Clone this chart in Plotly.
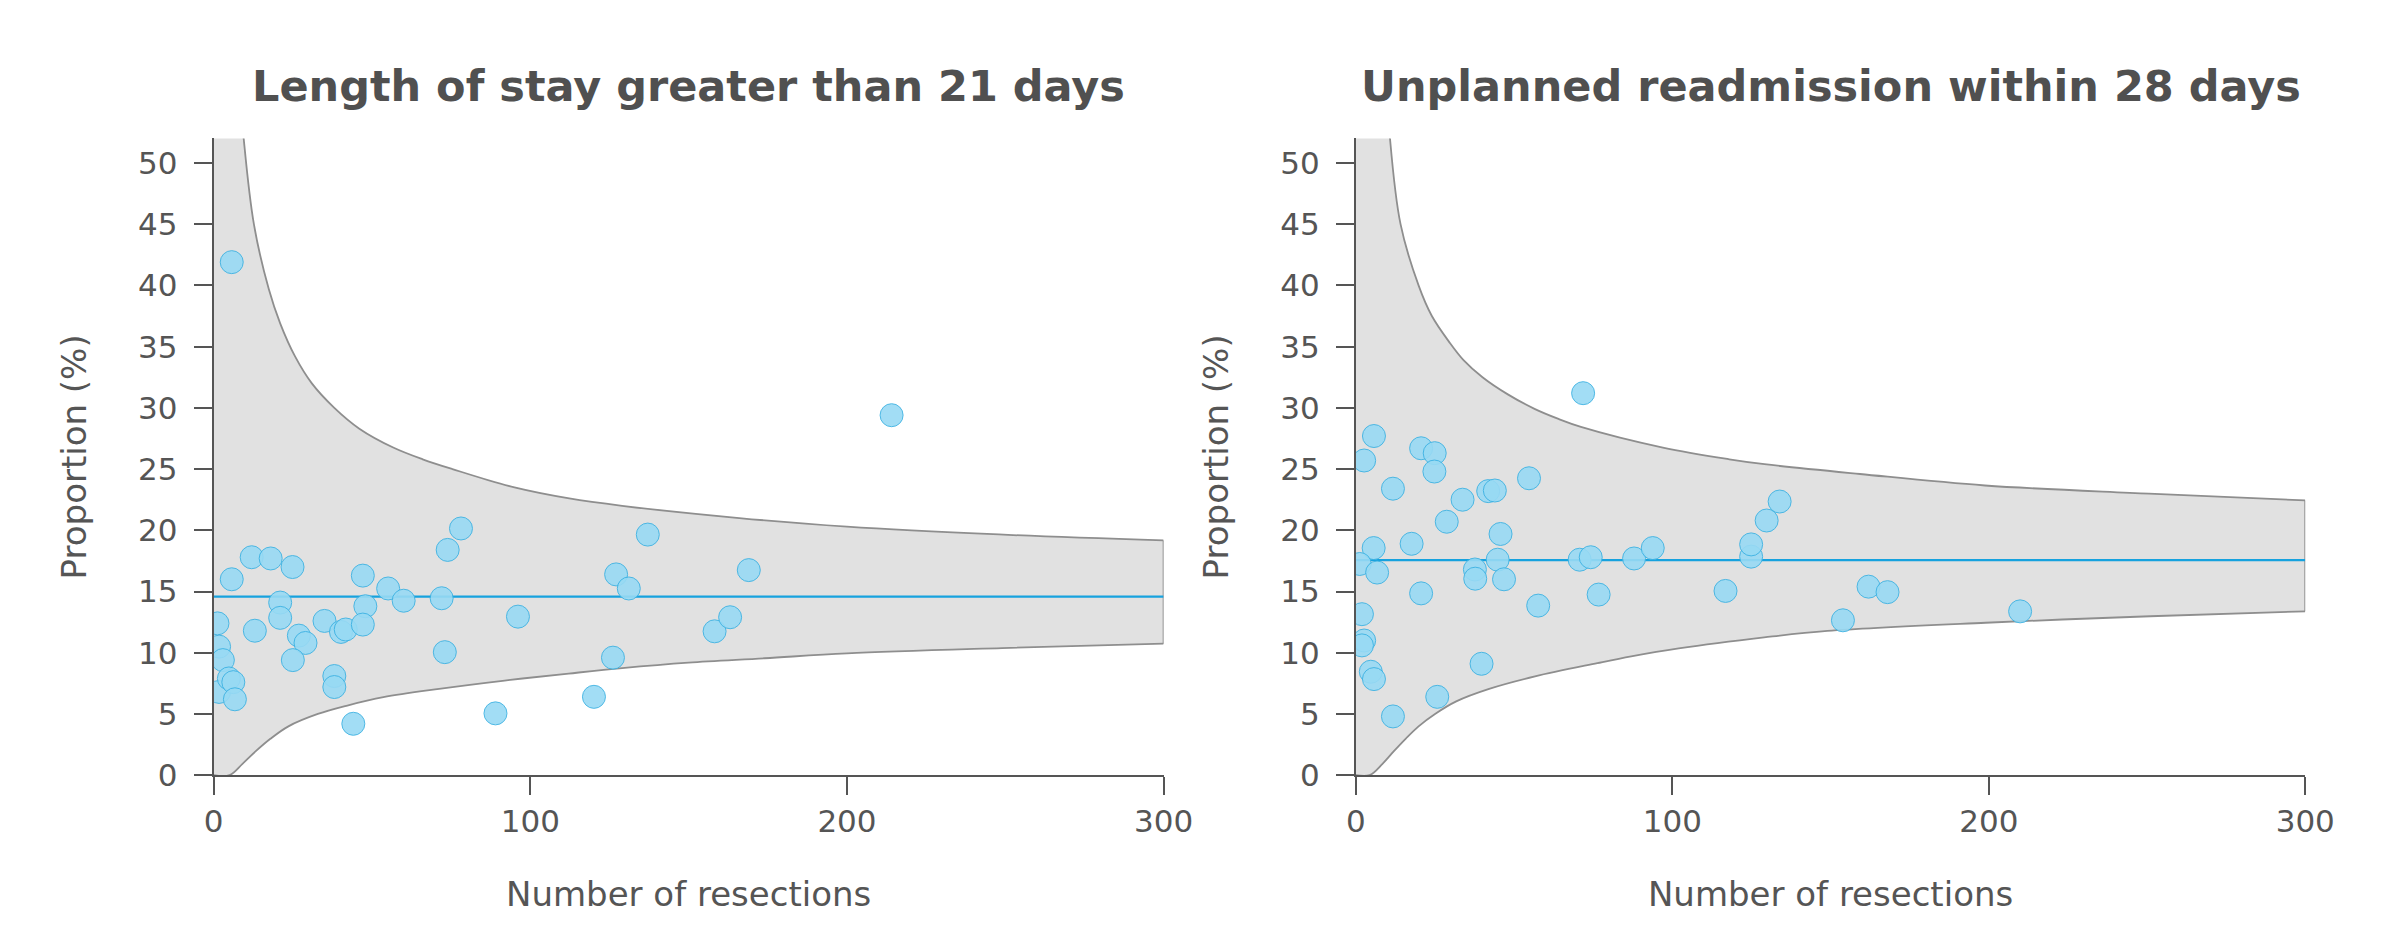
import plotly.graph_objects as go
from plotly.subplots import make_subplots

# length of stay > 21 days
stay_n = [1.2, 1.7, 2.9, 1.7, 4.8, 6.2, 6.7, 5.7, 5.7, 12.0, 18.0, 24.9, 13.0, 21.0, 21.0,
          26.9, 29.0, 25.0, 35.0, 40.2, 41.7, 38.1, 38.1, 44.1, 47.1, 47.9, 47.1, 55.1, 60.0,
          72.0, 73.9, 78.1, 73.0, 89.0, 96.1, 120.1, 126.1, 127.1, 131.1, 137.1, 158.2,
          163.1, 169.0, 214.1]
stay_pct = [12.4, 10.5, 9.4, 6.8, 7.9, 7.6, 6.2, 16.0, 41.9, 17.8, 17.7, 17.0, 11.8, 14.1, 12.85,
            11.4, 10.8, 9.4, 12.6, 11.7, 11.9, 8.1, 7.2, 4.2, 16.3, 13.8, 12.3, 15.25, 14.25,
            14.45, 18.4, 20.15, 10.05, 5.05, 12.95, 6.4, 9.6, 16.4, 15.25, 19.65, 11.75,
            12.9, 16.75, 29.4]
stay_mean = 14.58
stay_upper_n = [0, 7, 9.4, 12.7, 17.4, 21, 25.7, 31, 38.1, 46, 56.7, 66, 75.4, 95, 112.3, 129, 166, 200, 248, 300]
stay_upper = [60, 60, 52.2, 45, 39.7, 36.9, 34.2, 32.0, 30, 28.3, 26.76, 25.8, 25, 23.5, 22.6, 22.0, 21.0, 20.3, 19.66, 19.17]
stay_lower_n = [0, 5.0, 9.1, 13.3, 17.9, 23.6, 32.9, 42.2, 53.6, 71.2, 91.9, 112.1, 129, 150, 174, 200, 249, 300]
stay_lower = [0, 0, 0.93, 1.96, 2.97, 3.99, 5.0, 5.69, 6.37, 7.05, 7.73, 8.3, 8.75, 9.2, 9.55, 9.95, 10.38, 10.74]

# unplanned readmission within 28 days
readm_n = [71.8, 5.7, 2.6, 20.6, 24.9, 24.8, 11.7, 54.7, 33.7, 41.8, 43.9, 28.7, 45.7, 17.6, 5.6,
           1.2, 6.7, 44.8, 37.6, 37.7, 46.8, 20.6, 57.6, 70.7, 74.2, 76.7, 87.9, 93.8, 116.8,
           124.9, 124.9, 129.8, 133.9, 153.9, 162.0, 168.0, 209.9, 1.9, 2.6, 1.9, 4.7, 5.7,
           39.7, 25.7, 11.7]
readm_pct = [31.2, 27.7, 25.7, 26.7, 26.3, 24.8, 23.4, 24.25, 22.5, 23.2, 23.25, 20.7, 19.7, 18.9, 18.55,
             17.25, 16.55, 17.6, 16.8, 16.05, 16.0, 14.85, 13.85, 17.6, 17.8, 14.75, 17.7, 18.55, 15.05,
             17.85, 18.85, 20.8, 22.35, 12.65, 15.4, 14.95, 13.38, 13.15, 11.0, 10.6, 8.45, 7.85,
             9.1, 6.4, 4.8]
readm_mean = 17.57
readm_upper_n = [0, 9, 10.7, 14.1, 19.8, 24, 29.7, 34, 40.0, 48, 56.6, 64, 71.1, 97.0, 118, 129.1, 159.3, 198.8, 250.6, 300]
readm_upper = [60, 60, 52.2, 45, 40, 37.5, 35.3, 33.9, 32.5, 31.1, 29.9, 29.1, 28.45, 26.76, 25.8, 25.4, 24.6, 23.66, 23.0, 22.44]
readm_lower_n = [0, 4.3, 8.4, 12.0, 15.7, 19.8, 25.0, 31.7, 42.1, 56.6, 76.3, 87, 102, 129, 149, 199, 251, 300]
readm_lower = [0, 0, 0.93, 1.96, 2.97, 3.99, 5.0, 6.03, 7.05, 8.07, 9.15, 9.7, 10.35, 11.25, 11.78, 12.45, 12.98, 13.38]

titles = ["Length of stay greater than 21 days", "Unplanned readmission within 28 days"]

TEXT = "#555555"
BAND_LINE = "#8e8e8e"
BAND_FILL = "#e1e1e1"
MEAN_COL = "#16a2de"

panels = [
    (stay_n, stay_pct, stay_mean, stay_upper_n, stay_upper, stay_lower_n, stay_lower),
    (readm_n, readm_pct, readm_mean, readm_upper_n, readm_upper, readm_lower_n, readm_lower),
]

fig = make_subplots(rows=1, cols=2)

for i, (n, pct, mean, up_n, up, lo_n, lo) in enumerate(panels):
    col = i + 1
    fig.add_trace(go.Scatter(x=lo_n, y=lo, mode="lines",
                             line=dict(color=BAND_LINE, width=1.8, shape="spline"),
                             hoverinfo="skip"), row=1, col=col)
    fig.add_trace(go.Scatter(x=up_n, y=up, mode="lines", fill="tonexty", fillcolor=BAND_FILL,
                             line=dict(color=BAND_LINE, width=1.8, shape="spline"),
                             hoverinfo="skip"), row=1, col=col)
    # closing edge of the funnel at the right end
    fig.add_trace(go.Scatter(x=[up_n[-1], lo_n[-1]], y=[up[-1], lo[-1]], mode="lines",
                             line=dict(color=BAND_LINE, width=1.8), hoverinfo="skip"),
                  row=1, col=col)
    fig.add_trace(go.Scatter(x=[0, up_n[-1]], y=[mean, mean], mode="lines",
                             line=dict(color=MEAN_COL, width=2.2)), row=1, col=col)
    fig.add_trace(go.Scatter(x=n, y=pct, mode="markers",
                             marker=dict(size=23, color="#98daf4", opacity=0.9,
                                         line=dict(color="#3cb2e3", width=1))),
                  row=1, col=col)

axis_common = dict(showline=True, linewidth=2, linecolor=TEXT, ticks="outside", ticklen=18,
                   tickwidth=2, tickcolor=TEXT, showgrid=False, zeroline=False,
                   tickfont=dict(family="DejaVu Sans", size=31, color=TEXT))

fig.update_xaxes(range=[0, 300], tickvals=[0, 100, 200, 300], ticklabelstandoff=0,
                 title=dict(text="Number of resections", standoff=44,
                            font=dict(family="DejaVu Sans", size=34, color=TEXT)),
                 **axis_common)
fig.update_yaxes(range=[0, 52], tickvals=list(range(0, 51, 5)), ticklabelstandoff=10,
                 title=dict(text="Proportion (%)", standoff=41,
                            font=dict(family="DejaVu Sans", size=34, color=TEXT)),
                 **axis_common)

fig.update_layout(
    width=2400, height=951,
    margin=dict(l=0, r=0, t=0, b=0),
    plot_bgcolor="white", paper_bgcolor="white",
    showlegend=False,
    xaxis=dict(domain=[199 / 2400, 1165 / 2400]),
    xaxis2=dict(domain=[1360.6 / 2400, 2326 / 2400]),
    yaxis=dict(domain=[169 / 951, 818 / 951]),
    yaxis2=dict(domain=[169 / 951, 818 / 951]),
)

for i, t in enumerate(titles):
    fig.add_annotation(text="<b>" + t + "</b>", xref="x%s domain" % ("" if i == 0 else "2"),
                       yref="paper", x=0.5, y=1 - 80 / 951, xanchor="center", yanchor="middle",
                       showarrow=False, font=dict(family="DejaVu Sans", size=43, color="#505050"))

fig.write_html("out.html")
